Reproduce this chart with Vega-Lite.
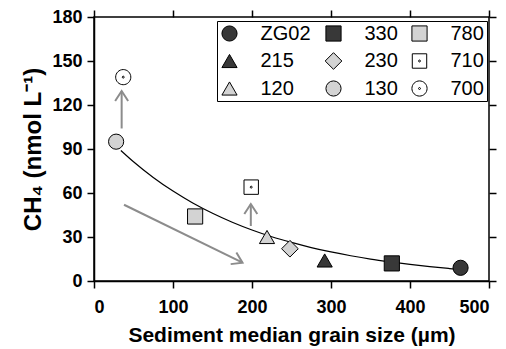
{
  "$schema": "https://vega.github.io/schema/vega-lite/v6.json",
  "width": 395,
  "height": 264,
  "autosize": {"type": "none"},
  "padding": {"left": 94, "top": 17, "right": 17, "bottom": 68},
  "background": "white",
  "datasets": {
    "sites": [
      {"site": "ZG02", "grain": 464, "ch4": 9},
      {"site": "330", "grain": 377, "ch4": 12},
      {"site": "780", "grain": 128, "ch4": 44},
      {"site": "215", "grain": 292, "ch4": 14},
      {"site": "230", "grain": 248, "ch4": 22},
      {"site": "710", "grain": 199, "ch4": 64},
      {"site": "120", "grain": 219, "ch4": 30},
      {"site": "130", "grain": 28, "ch4": 95},
      {"site": "700", "grain": 37, "ch4": 139}
    ],
    "curve": [
      {"grain": 34, "ch4": 89.0}, {"grain": 50, "ch4": 81.3}, {"grain": 75, "ch4": 70.6},
      {"grain": 100, "ch4": 61.3}, {"grain": 125, "ch4": 53.2}, {"grain": 150, "ch4": 46.2},
      {"grain": 175, "ch4": 40.1}, {"grain": 200, "ch4": 34.8}, {"grain": 225, "ch4": 30.2},
      {"grain": 250, "ch4": 26.3}, {"grain": 275, "ch4": 22.8}, {"grain": 300, "ch4": 19.8},
      {"grain": 325, "ch4": 17.2}, {"grain": 350, "ch4": 14.9}, {"grain": 375, "ch4": 13.0},
      {"grain": 400, "ch4": 11.3}, {"grain": 425, "ch4": 9.8}, {"grain": 450, "ch4": 8.5},
      {"grain": 460, "ch4": 8.0}
    ],
    "arrows": [
      {"kind": "up", "x": 35, "y": 104, "x2": 35, "y2": 129.5},
      {"kind": "up", "x": 198.5, "y": 37.5, "x2": 198.5, "y2": 52.5},
      {"kind": "diag", "x": 38, "y": 52, "x2": 188, "y2": 12.5}
    ]
  },
  "layer": [
    {
      "data": {"name": "curve"},
      "mark": {"type": "line", "color": "black", "strokeWidth": 1.2, "interpolate": "monotone"},
      "encoding": {
        "x": {"field": "grain", "type": "quantitative", "scale": {"domain": [0, 500], "nice": false},
              "axis": {"orient": "top", "labels": false, "title": null, "domain": false, "values": [0, 100, 200, 300, 400, 500]}},
        "y": {"field": "ch4", "type": "quantitative", "scale": {"domain": [0, 180], "nice": false},
              "axis": {"orient": "right", "labels": false, "title": null, "domain": false, "values": [0, 30, 60, 90, 120, 150, 180]}}
      }
    },
    {
      "data": {"name": "arrows"},
      "mark": {"type": "rule", "color": "#8c8c8c", "strokeWidth": 2},
      "encoding": {
        "x": {"field": "x", "type": "quantitative", "axis": null},
        "y": {"field": "y", "type": "quantitative", "axis": null},
        "x2": {"field": "x2"},
        "y2": {"field": "y2"}
      }
    },
    {
      "data": {"name": "arrows"},
      "transform": [{"filter": "datum.kind === 'up'"}],
      "mark": {"type": "point", "shape": "M-0.65,1L0,0L0.65,1", "size": 400, "filled": false, "stroke": "#8c8c8c", "strokeWidth": 2, "opacity": 1, "angle": 0},
      "encoding": {
        "x": {"field": "x2", "type": "quantitative", "axis": null},
        "y": {"field": "y2", "type": "quantitative", "axis": null}
      }
    },
    {
      "data": {"name": "arrows"},
      "transform": [{"filter": "datum.kind === 'diag'"}],
      "mark": {"type": "point", "shape": "M-0.65,1L0,0L0.65,1", "size": 400, "filled": false, "stroke": "#8c8c8c", "strokeWidth": 2, "opacity": 1, "angle": 116},
      "encoding": {
        "x": {"field": "x2", "type": "quantitative", "axis": null},
        "y": {"field": "y2", "type": "quantitative", "axis": null}
      }
    },
    {
      "data": {"name": "sites"},
      "mark": {"type": "point", "filled": true, "stroke": "black", "strokeWidth": 1, "opacity": 1, "size": 230},
      "encoding": {
        "x": {"field": "grain", "type": "quantitative",
              "axis": {"orient": "bottom", "values": [0, 100, 200, 300, 400, 500], "title": "Sediment median grain size (µm)",
                       "titleFontSize": 21, "labelPadding": 10, "titlePadding": 8, "labelFontWeight": "bold"}},
        "y": {"field": "ch4", "type": "quantitative",
              "axis": {"orient": "left", "values": [0, 30, 60, 90, 120, 150, 180], "title": "CH₄ (nmol L⁻¹)",
                       "titleFontSize": 24, "labelPadding": 5, "titlePadding": 6, "labelFontWeight": "bold"}},
        "fill": {"field": "site", "type": "nominal",
                 "scale": {"domain": ["ZG02", "215", "120", "330", "230", "130", "780", "710", "700"],
                           "range": ["#383838", "#383838", "#d3d3d3", "#383838", "#d3d3d3", "#d3d3d3", "#d3d3d3", "white", "white"]},
                 "legend": {"title": null,
                            "encode": {"symbols": {"update": {"stroke": {"value": "black"}, "strokeWidth": {"value": 1}, "opacity": {"value": 1}}}}}},
        "shape": {"field": "site", "type": "nominal",
                  "scale": {"domain": ["ZG02", "215", "120", "330", "230", "130", "780", "710", "700"],
                            "range": ["circle", "triangle-up", "triangle-up", "square", "M-1.1,0L0,-1.1L1.1,0L0,1.1Z", "circle", "square",
                                      "M-0.95,-0.95L0.95,-0.95L0.95,0.95L-0.95,0.95ZM0.13,0A0.13,0.13,0,1,1,-0.13,0A0.13,0.13,0,1,1,0.13,0Z",
                                      "M1,0A1,1,0,1,1,-1,0A1,1,0,1,1,1,0ZM0.13,0A0.13,0.13,0,1,1,-0.13,0A0.13,0.13,0,1,1,0.13,0Z"]},
                  "legend": {"title": null,
                             "encode": {"symbols": {"update": {"stroke": {"value": "black"}, "strokeWidth": {"value": 1}, "opacity": {"value": 1}}}}}}
      }
    }
  ],
  "resolve": {"axis": {"x": "independent", "y": "independent"}},
  "config": {
    "view": {"stroke": "black", "strokeWidth": 1.5},
    "font": "Liberation Sans",
    "axis": {
      "domainColor": "black", "domainWidth": 1.5,
      "tickColor": "black", "tickWidth": 1.5, "tickSize": 7,
      "grid": false,
      "labelFont": "Liberation Sans", "labelFontSize": 18, "labelFontWeight": "bold", "labelColor": "black",
      "titleFont": "Liberation Sans", "titleFontWeight": "bold", "titleColor": "black"
    },
    "legend": {
      "orient": "none", "legendX": 123, "legendY": 4, "columns": 3, "direction": "vertical",
      "symbolSize": 230, "symbolStrokeColor": "black", "symbolStrokeWidth": 1, "symbolOpacity": 1,
      "labelFont": "Liberation Sans", "labelFontSize": 20, "labelColor": "black", "labelOffset": 21,
      "columnPadding": 11, "rowPadding": 6.5, "padding": 2.5,
      "strokeColor": "black", "fillColor": "white"
    }
  }
}
